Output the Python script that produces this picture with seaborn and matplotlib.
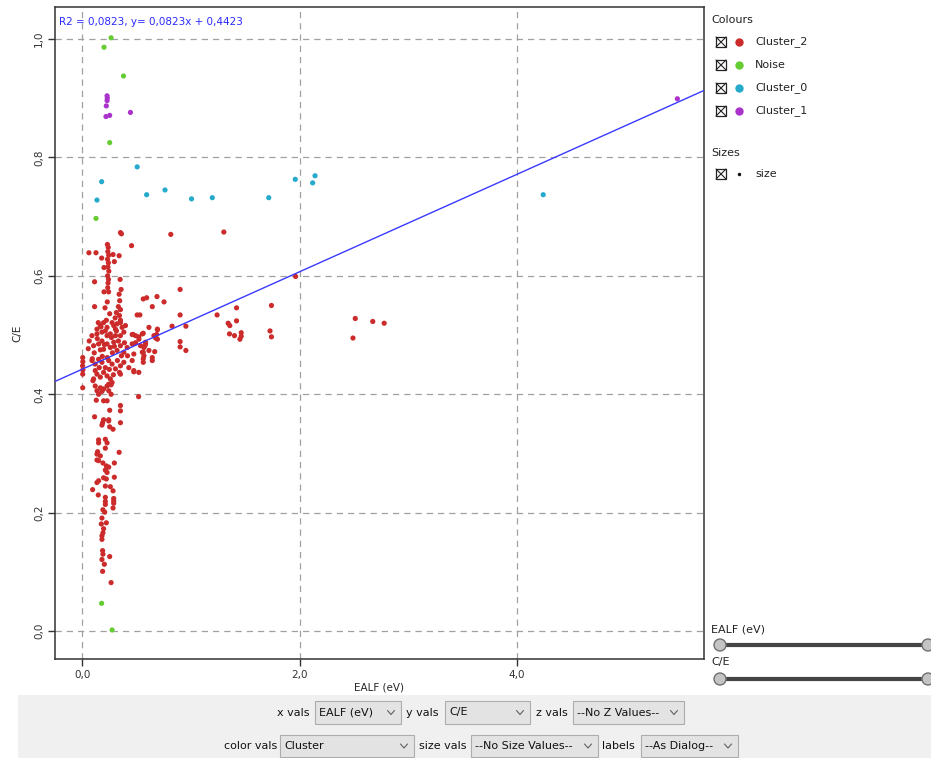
import numpy as np
import pandas as pd
import matplotlib
matplotlib.use("Agg")
import matplotlib.pyplot as plt
import seaborn as sns
from matplotlib.patches import Rectangle, Circle
from matplotlib.ticker import FuncFormatter, MultipleLocator

# Data: (EALF (eV), C/E) per cluster
cluster_2 = [
    (0.352, 0.673), (0.361, 0.671), (0.815, 0.670), (1.303, 0.674), (0.454, 0.651),
    (0.232, 0.653), (0.240, 0.648), (0.236, 0.641), (0.244, 0.635), (0.233, 0.628),
    (0.241, 0.622), (0.237, 0.615), (0.245, 0.608), (0.234, 0.600), (0.242, 0.594),
    (0.238, 0.588), (0.235, 0.580), (0.243, 0.573),
    (0.062, 0.639), (0.127, 0.639), (0.284, 0.636), (0.340, 0.634), (0.179, 0.630),
    (0.296, 0.624), (0.201, 0.614), (0.114, 0.590), (0.349, 0.594), (0.201, 0.573),
    (0.358, 0.577), (0.901, 0.577), (0.340, 0.569),
    (0.562, 0.561), (0.593, 0.563), (0.688, 0.565), (0.753, 0.556), (0.231, 0.556),
    (0.345, 0.558), (0.114, 0.548), (0.210, 0.546), (0.645, 0.548),
    (0.333, 0.548), (0.352, 0.543), (0.315, 0.538), (0.343, 0.533), (0.253, 0.536),
    (0.506, 0.534), (0.531, 0.534), (0.901, 0.534),
    (0.222, 0.525), (0.303, 0.529), (0.352, 0.525), (0.321, 0.519), (0.614, 0.513),
    (0.692, 0.510), (0.954, 0.515), (0.173, 0.514), (0.136, 0.510),
    (1.420, 0.546), (1.741, 0.550), (1.241, 0.534), (1.343, 0.520), (1.358, 0.516),
    (1.420, 0.524), (0.827, 0.515),
    (0.469, 0.501), (0.562, 0.503), (0.692, 0.509), (0.685, 0.501), (0.676, 0.495),
    (0.692, 0.493), (0.901, 0.489), (0.901, 0.480), (0.954, 0.474),
    (1.355, 0.502), (1.401, 0.499), (1.463, 0.504), (1.463, 0.498), (1.451, 0.493),
    (1.728, 0.507), (1.741, 0.497),
    (0.491, 0.487), (0.522, 0.493), (0.583, 0.485), (0.568, 0.479), (0.562, 0.471),
    (0.568, 0.465), (0.562, 0.460), (0.562, 0.454), (0.577, 0.482),
    (0.667, 0.472), (0.645, 0.457), (0.475, 0.438), (0.519, 0.396), (0.460, 0.457),
    (1.963, 0.599), (2.512, 0.528), (2.673, 0.523), (2.778, 0.520), (2.491, 0.495),
    (0.005, 0.462), (0.006, 0.455), (0.004, 0.448), (0.006, 0.441), (0.005, 0.434),
    (0.005, 0.411),
    (0.167, 0.516), (0.197, 0.521), (0.229, 0.513), (0.275, 0.521), (0.290, 0.516),
    (0.352, 0.521), (0.367, 0.513), (0.306, 0.510),
    (0.090, 0.499), (0.136, 0.502), (0.182, 0.505), (0.229, 0.499), (0.259, 0.502),
    (0.306, 0.499), (0.352, 0.499), (0.383, 0.505),
    (0.460, 0.501), (0.491, 0.499), (0.521, 0.497), (0.553, 0.502), (0.660, 0.499),
    (0.105, 0.482), (0.151, 0.485), (0.182, 0.490), (0.197, 0.476), (0.229, 0.485),
    (0.259, 0.479), (0.290, 0.488), (0.321, 0.474), (0.352, 0.482), (0.383, 0.471),
    (0.414, 0.479), (0.460, 0.485), (0.475, 0.468), (0.537, 0.482), (0.553, 0.471),
    (0.583, 0.488), (0.614, 0.474), (0.645, 0.462),
    (0.090, 0.457), (0.120, 0.451), (0.151, 0.459), (0.182, 0.454), (0.213, 0.445),
    (0.244, 0.457), (0.275, 0.451), (0.306, 0.443), (0.352, 0.448), (0.383, 0.454),
    (0.429, 0.445), (0.475, 0.440), (0.136, 0.434), (0.167, 0.429), (0.197, 0.437),
    (0.229, 0.431), (0.259, 0.426), (0.105, 0.426), (0.244, 0.417), (0.275, 0.420),
    (0.521, 0.437), (0.352, 0.434),
    (0.065, 0.490), (0.111, 0.470), (0.139, 0.494), (0.157, 0.445), (0.185, 0.464),
    (0.204, 0.484), (0.231, 0.462), (0.250, 0.442), (0.278, 0.470), (0.296, 0.481),
    (0.324, 0.457), (0.333, 0.490), (0.361, 0.465), (0.389, 0.487), (0.343, 0.437),
    (0.287, 0.433), (0.167, 0.475), (0.120, 0.440), (0.093, 0.460), (0.056, 0.477),
    (0.269, 0.496), (0.213, 0.507), (0.148, 0.521), (0.315, 0.507), (0.398, 0.516),
    (0.417, 0.465),
    (0.099, 0.423), (0.120, 0.414), (0.136, 0.406), (0.167, 0.411), (0.182, 0.405),
    (0.151, 0.400), (0.197, 0.409), (0.229, 0.414), (0.244, 0.406), (0.266, 0.400),
    (0.266, 0.416),
    (0.130, 0.390), (0.197, 0.389), (0.229, 0.389), (0.253, 0.373), (0.352, 0.381),
    (0.352, 0.372), (0.114, 0.362), (0.197, 0.357), (0.244, 0.357),
    (0.188, 0.352), (0.182, 0.348), (0.244, 0.355), (0.253, 0.345), (0.284, 0.341),
    (0.352, 0.352),
    (0.151, 0.323), (0.151, 0.318), (0.213, 0.324), (0.229, 0.318), (0.213, 0.309),
    (0.340, 0.302),
    (0.142, 0.303), (0.136, 0.299), (0.167, 0.296), (0.136, 0.289), (0.151, 0.288),
    (0.191, 0.284), (0.296, 0.284),
    (0.222, 0.279), (0.244, 0.277), (0.213, 0.272), (0.229, 0.268), (0.197, 0.259),
    (0.222, 0.257), (0.296, 0.260),
    (0.136, 0.251), (0.151, 0.254), (0.213, 0.245), (0.259, 0.244), (0.284, 0.237),
    (0.096, 0.239), (0.148, 0.230),
    (0.213, 0.226), (0.213, 0.219), (0.213, 0.214), (0.290, 0.224), (0.290, 0.220),
    (0.290, 0.216), (0.284, 0.208),
    (0.191, 0.205), (0.207, 0.201), (0.182, 0.191), (0.176, 0.181), (0.222, 0.183),
    (0.197, 0.173), (0.191, 0.166), (0.182, 0.161), (0.182, 0.155),
    (0.188, 0.136), (0.191, 0.130), (0.182, 0.121), (0.253, 0.126), (0.204, 0.113),
    (0.188, 0.101), (0.266, 0.082),
]
noise = [
    (0.266, 1.002), (0.201, 0.986), (0.380, 0.9375), (0.253, 0.825),
    (0.127, 0.697), (0.179, 0.047), (0.275, 0.002),
]
cluster_0 = [
    (0.506, 0.784), (0.179, 0.759), (0.136, 0.728), (0.593, 0.737), (0.762, 0.745),
    (1.006, 0.730), (1.197, 0.732), (1.716, 0.732), (1.960, 0.763), (2.120, 0.757),
    (2.142, 0.769), (4.241, 0.737),
]
cluster_1 = [
    (0.229, 0.904), (0.231, 0.900), (0.229, 0.896), (0.222, 0.887), (0.219, 0.869),
    (0.253, 0.871), (0.444, 0.876), (5.475, 0.899),
]

cluster_order = ["Cluster_2", "Noise", "Cluster_0", "Cluster_1"]
cluster_colors = ["#cc2b2b", "#66cc33", "#25aacc", "#aa33cc"]

# regression shown in the chart
slope = 0.0823
intercept = 0.4423
r2 = 0.0823

def fmt(v):
    return f"{v:.4f}".replace(".", ",")

rows = []
for name, pts in zip(cluster_order, [cluster_2, noise, cluster_0, cluster_1]):
    for x, y in pts:
        rows.append({"EALF (eV)": x, "C/E": y, "Cluster": name})
df = pd.DataFrame(rows)

sns.set_style("white")
plt.rcParams["font.family"] = ["DejaVu Sans"]

W, H = 931, 758
fig = plt.figure(figsize=(W / 100, H / 100), dpi=100)

# overlay in pixel coords for the dialog furniture
ui = fig.add_axes([0, 0, 1, 1], zorder=0)
ui.set_xlim(0, W)
ui.set_ylim(H, 0)
ui.axis("off")

ax = fig.add_axes([55 / W, 1 - 659 / H, (704 - 55) / W, (659 - 7) / H], zorder=1)

sns.scatterplot(data=df, x="EALF (eV)", y="C/E", hue="Cluster",
                hue_order=cluster_order, palette=dict(zip(cluster_order, cluster_colors)),
                s=14, linewidth=0, legend=False, ax=ax, zorder=3)
ax.axline((0, intercept), slope=slope, color="#3a3aff", lw=1.0, zorder=4)

ax.set_xlim(-0.25, 5.72)
ax.set_ylim(-0.047, 1.054)
ax.xaxis.set_major_locator(MultipleLocator(2.0))
ax.yaxis.set_major_locator(MultipleLocator(0.2))
comma = FuncFormatter(lambda v, p: f"{v:.1f}".replace(".", ",").replace("-0,0", "0,0"))
ax.xaxis.set_major_formatter(comma)
ax.yaxis.set_major_formatter(comma)
ax.grid(True, ls=(0, (5, 4)), color="#a0a0a0", lw=0.9, zorder=0)
ax.tick_params(direction="out", length=5, width=1, colors="#333333",
               labelsize=7.5, pad=3, left=True, bottom=True)
ax.tick_params(axis="y", labelrotation=90)
for lab in ax.get_yticklabels():
    lab.set_va("center")
for sp in ax.spines.values():
    sp.set_color("#333333")
    sp.set_linewidth(1.1)
ax.set_xlabel("EALF (eV)", fontsize=7.5, labelpad=2)
ax.set_ylabel("C/E", fontsize=7.5, labelpad=8)
ax.text(0.006, 0.985, f"R2 = {fmt(r2)}, y= {fmt(slope)}x + {fmt(intercept)}",
        transform=ax.transAxes, color="#2a2aff", fontsize=7.5, va="top", ha="left")

# legend panel on the right
def checkbox(x, y):
    ui.add_patch(Rectangle((x - 5, y - 5), 10, 10, fill=False, ec="#222222", lw=0.9))
    ui.plot([x - 5, x + 5], [y - 5, y + 5], color="#222222", lw=0.8)
    ui.plot([x - 5, x + 5], [y + 5, y - 5], color="#222222", lw=0.8)

ui.text(711, 20, "Colours", fontsize=8, va="center", ha="left", color="#222222")
for i, (name, col) in enumerate(zip(cluster_order, cluster_colors)):
    yy = 42 + i * 23
    checkbox(721, yy)
    ui.plot(739, yy, "o", ms=6, color=col, mec="none")
    ui.text(755, yy, name, fontsize=8, va="center", ha="left", color="#222222")
ui.text(711, 153, "Sizes", fontsize=8, va="center", ha="left", color="#222222")
checkbox(721, 174)
ui.plot(739, 174, "o", ms=2.5, color="#111111", mec="none")
ui.text(755, 174, "size", fontsize=8, va="center", ha="left", color="#222222")

# range sliders
for label, ly, sy in [("EALF (eV)", 629, 645), ("C/E", 662, 679)]:
    ui.text(711, ly, label, fontsize=8, va="center", ha="left", color="#222222")
    ui.plot([720, 928], [sy, sy], color="#454545", lw=3, solid_capstyle="butt")
    for cx in (720, 928):
        ui.add_patch(Circle((cx, sy), 6, fc="#c4c4c4", ec="#707070", lw=1, zorder=5))

# bottom control panel
ui.add_patch(Rectangle((18, 695), W - 18, H - 695, fc="#f0f0f0", ec="none"))
narrow = ["Liberation Sans Narrow", "DejaVu Sans"]

def combo(x0, x1, y0, y1, text):
    ui.add_patch(Rectangle((x0, y0), x1 - x0, y1 - y0, fc="#e3e3e3", ec="#adadad", lw=0.8))
    ui.text(x0 + 4, (y0 + y1) / 2, text, fontsize=8, family=narrow,
            va="center", ha="left", color="#111111")
    cx, cy = x1 - 10, (y0 + y1) / 2
    ui.plot([cx - 3.5, cx, cx + 3.5], [cy - 2, cy + 2, cy - 2], color="#606060", lw=0.8)

row1 = [("x vals", 277, 315, 401, "EALF (eV)"), ("y vals", 406, 445, 530, "C/E"),
        ("z vals", 536, 573, 684, "--No Z Values--")]
row2 = [("color vals", 224, 280, 414, "Cluster"), ("size vals", 419, 471, 598, "--No Size Values--"),
        ("labels", 602, 641, 738, "--As Dialog--")]
for items, y0, y1 in [(row1, 701, 724), (row2, 735, 757)]:
    for lab, lx, bx0, bx1, txt in items:
        ui.text(lx, (y0 + y1) / 2, lab, fontsize=8, family=narrow,
                va="center", ha="left", color="#111111")
        combo(bx0, bx1, y0, y1, txt)

fig.savefig("out.png", dpi=100)
